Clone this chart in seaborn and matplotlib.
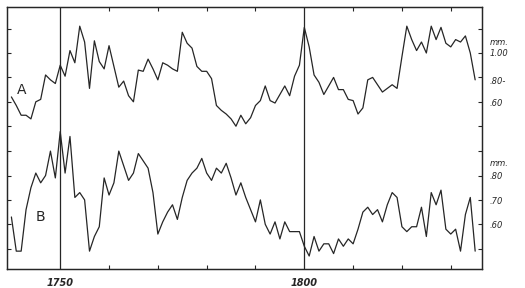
import matplotlib
matplotlib.use("Agg")
import numpy as np
import pandas as pd
import seaborn as sns
import matplotlib.pyplot as plt
from matplotlib.transforms import blended_transform_factory, offset_copy

# ---- data (ring widths, mm) ----
years = list(range(1740, 1836))
ring_a = [0.64, 0.57, 0.49, 0.49, 0.46, 0.60, 0.62, 0.82, 0.78, 0.75,
          0.90, 0.81, 1.02, 0.92, 1.22, 1.09, 0.71, 1.10, 0.93, 0.87,
          1.06, 0.89, 0.72, 0.77, 0.65, 0.60, 0.86, 0.85, 0.95, 0.87,
          0.78, 0.92, 0.90, 0.87, 0.85, 1.17, 1.08, 1.04, 0.89, 0.85,
          0.85, 0.79, 0.57, 0.53, 0.50, 0.46, 0.40, 0.49, 0.42, 0.47,
          0.57, 0.61, 0.73, 0.61, 0.59, 0.66, 0.73, 0.65, 0.81, 0.90,
          1.21, 1.05, 0.82, 0.76, 0.66, 0.73, 0.80, 0.70, 0.70, 0.62,
          0.61, 0.50, 0.55, 0.78, 0.80, 0.74, 0.68, 0.71, 0.74, 0.71,
          0.97, 1.22, 1.11, 1.02, 1.09, 1.00, 1.22, 1.11, 1.21, 1.08,
          1.05, 1.11, 1.09, 1.14, 1.00, 0.78]
ring_b = [0.63, 0.49, 0.49, 0.66, 0.75, 0.81, 0.77, 0.80, 0.90, 0.79,
          0.98, 0.81, 0.96, 0.71, 0.73, 0.70, 0.49, 0.55, 0.59, 0.79,
          0.72, 0.77, 0.90, 0.84, 0.78, 0.81, 0.89, 0.86, 0.83, 0.73,
          0.56, 0.61, 0.65, 0.68, 0.62, 0.71, 0.78, 0.81, 0.83, 0.87,
          0.81, 0.78, 0.83, 0.81, 0.85, 0.79, 0.72, 0.77, 0.71, 0.66,
          0.61, 0.70, 0.60, 0.56, 0.61, 0.54, 0.61, 0.57, 0.57, 0.57,
          0.51, 0.47, 0.55, 0.49, 0.52, 0.52, 0.48, 0.54, 0.51, 0.54,
          0.52, 0.58, 0.65, 0.67, 0.64, 0.66, 0.61, 0.68, 0.73, 0.71,
          0.59, 0.57, 0.59, 0.59, 0.67, 0.55, 0.73, 0.68, 0.74, 0.58,
          0.56, 0.58, 0.49, 0.64, 0.71, 0.49]

series_names = ["A", "B"]
ticks_a = [0.40, 0.60, 0.80, 1.00, 1.20]
ticks_b = [0.50, 0.60, 0.70, 0.80, 0.90]
labels_a = ["1.00", ".80-", ".60"]
labels_a_vals = [1.00, 0.80, 0.60]
labels_b = [".80", ".70", ".60"]
labels_b_vals = [0.80, 0.70, 0.60]
unit_label = "mm."
year_lines = [1750, 1800]
year_labels = ["1750", "1800"]
year_ticks = [1760, 1770, 1780, 1790, 1810, 1820, 1830]

df_a = pd.DataFrame({"year": years, "width": ring_a})
df_b = pd.DataFrame({"year": years, "width": ring_b})

sns.set_style("white")
plt.rcParams["font.family"] = ["DejaVu Sans"]

INK = "#262626"
fig = plt.figure(figsize=(5.25, 2.88), dpi=100)
ax = fig.add_axes([7 / 525, 1 - 269 / 288, (482 - 7) / 525, (269 - 7) / 288])
ax2 = ax.twinx()

sns.lineplot(data=df_a, x="year", y="width", ax=ax, color=INK, lw=0.9)
sns.lineplot(data=df_b, x="year", y="width", ax=ax2, color=INK, lw=0.9)

ax.set_xlim(1739.1, 1836.4)
ax.set_ylim(-0.770, 1.377)
ax2.set_ylim(0.4168, 1.4906)

for a in (ax, ax2):
    a.set_xlabel("")
    a.set_ylabel("")
    for s in a.spines.values():
        s.set_color(INK)
        s.set_linewidth(0.9)
        s.set_visible(True)

ax.set_yticks(ticks_a)
ax2.set_yticks(ticks_b)
ax.tick_params(axis="y", direction="in", left=True, right=True, length=3,
               width=0.8, color=INK, labelleft=False, labelright=False)
ax2.tick_params(axis="y", direction="in", left=True, right=True, length=3,
                width=0.8, color=INK, labelleft=False, labelright=False)
ax.set_xticks(year_ticks)
ax.tick_params(axis="x", direction="in", top=True, bottom=True, length=3,
               width=0.8, color=INK, labelbottom=False, labeltop=False)

for yl in year_lines:
    ax.axvline(yl, color=INK, lw=0.9)

# year labels under the frame
tx = blended_transform_factory(ax.transData, ax.transAxes)
for yv, lab in zip(year_lines, year_labels):
    ax.text(yv, -0.035, lab, transform=tx, ha="center", va="top",
            fontsize=7, style="italic", fontweight="bold", color=INK)

# series letters
ax.text(1742.0, 0.70, series_names[0], transform=ax.transData, fontsize=10,
        color=INK, ha="center", va="center")
ax2.text(1746.0, 0.628, series_names[1], transform=ax2.transData, fontsize=10,
         color=INK, ha="center", va="center")

# right-hand scale labels
ta = blended_transform_factory(ax.transAxes, ax.transData)
tb = blended_transform_factory(ax2.transAxes, ax2.transData)
xr = (490 - 7) / (482 - 7)
kw = dict(fontsize=6, style="italic", color=INK, ha="left", va="center")
ax.text(xr, 1.00, unit_label,
        transform=offset_copy(ta, fig=fig, y=7.5, units="points"), **kw)
offs_a = [0.0, -3.0, -1.5]
for v, lab, o in zip(labels_a_vals, labels_a, offs_a):
    ax.text(xr if lab != "1.00" else xr - 0.001, v, lab,
            transform=offset_copy(ta, fig=fig, y=o, units="points"), **kw)
ax2.text(xr, 0.80, unit_label,
         transform=offset_copy(tb, fig=fig, y=9.0, units="points"), **kw)
for v, lab in zip(labels_b_vals, labels_b):
    ax2.text(xr, v, lab, transform=offset_copy(tb, fig=fig, y=-1.0, units="points"), **kw)

fig.savefig("out.png", dpi=100, facecolor="white")
